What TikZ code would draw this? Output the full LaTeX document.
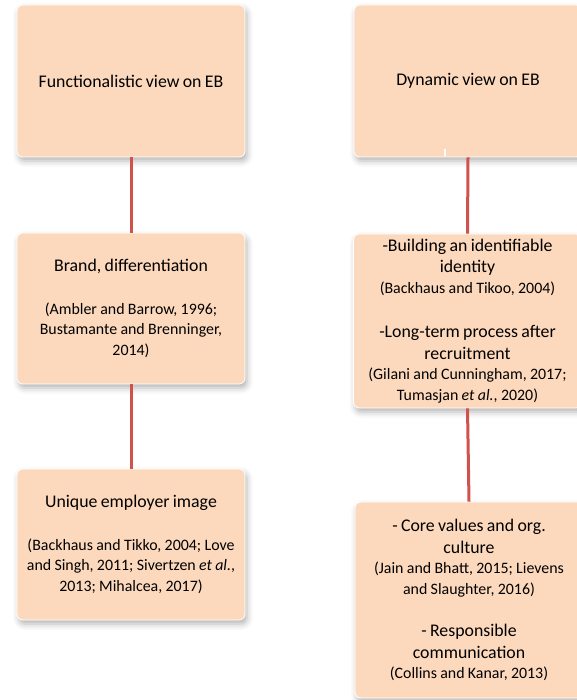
\documentclass[tikz,border=0pt]{standalone}
\usepackage{fontspec}
\setmainfont{Carlito}
\usetikzlibrary{shadows.blur}
\definecolor{peach}{HTML}{FCD9BD}
\definecolor{linkred}{HTML}{D0524A}
\newcommand\hdf{\fontsize{17.8}{21.5}\selectfont}
\newcommand\ctf{\fontsize{15.9}{20.5}\selectfont}
\begin{document}
\begin{tikzpicture}[x=1pt,y=-1pt,
  box/.style={rectangle, rounded corners=6pt, fill=peach, draw=white, line width=0.8pt,
    text width=226pt, inner xsep=1pt, inner ysep=0pt, align=center, anchor=center,
    blur shadow={shadow xshift=2pt, shadow yshift=-4pt, shadow blur radius=6pt, shadow opacity=30}},
  link/.style={draw=linkred, line width=3pt}]
\useasboundingbox (0,0) rectangle (577,700);
% left column
\node[box, minimum height=152pt] (l1) at (131,81) {\hdf Functionalistic view on EB};
\node[box, minimum height=151pt] (l2) at (131,308.5) {{\hdf Brand, differentiation\par}\vspace{22pt}{\ctf (Ambler and Barrow, 1996;\\Bustamante and Brenninger,\\2014)\par}};
\node[box, minimum height=151pt] (l3) at (131,544.5) {{\hdf Unique employer image\par}\vspace{22pt}{\ctf (Backhaus and Tikko, 2004; Love\\and Singh, 2011; Sivertzen \textit{et al.},\\2013; Mihalcea, 2017)\par}};
% right column
\node[box, minimum height=152pt] (r1) at (468,81) {\hdf Dynamic view on EB};
\node[box, minimum height=174pt] (r2) at (467.5,321) {{\hdf -Building an identifiable\\identity\par}{\ctf (Backhaus and Tikoo, 2004)\par}\vspace{23pt}{\hdf -Long-term process after\\recruitment\par}{\ctf (Gilani and Cunningham, 2017;\\Tumasjan \textit{et al.}, 2020)\par}};
\node[box, minimum height=196pt] (r3) at (469,600) {{\hdf - Core values and org.\\culture\par}{\ctf (Jain and Bhatt, 2015; Lievens\\and Slaughter, 2016)\par}\vspace{21pt}{\hdf - Responsible\\communication\par}{\ctf (Collins and Kanar, 2013)\par}};
\fill[white] (443.5,149) rectangle (446,156);
% connectors
\draw[link] (l1.south) -- (l2.north);
\draw[link] (l2.south) -- (l3.north);
\draw[link] (r1.south) -- (r2.north);
\draw[link] (r2.south) -- (r3.north);
\end{tikzpicture}
\end{document}
